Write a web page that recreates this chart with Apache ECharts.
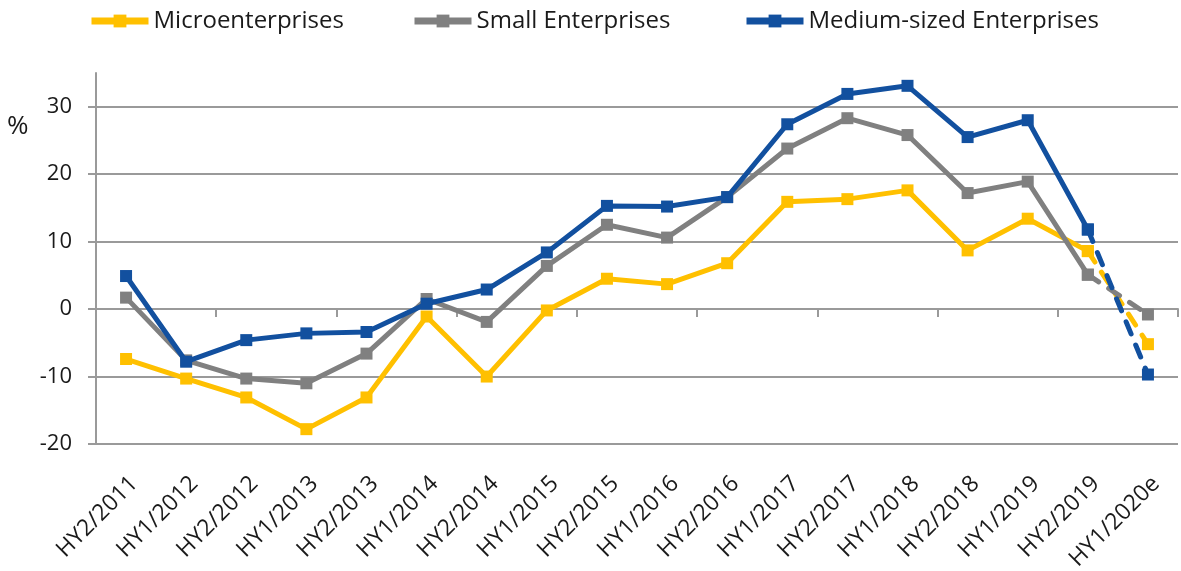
<!DOCTYPE html>
<html>
<head>
<meta charset="utf-8">
<script src="https://cdn.jsdelivr.net/npm/echarts@6/dist/echarts.min.js"></script>
<style>
  html, body { margin: 0; padding: 0; background: #fff; }
  #chart { width: 1181px; height: 571px; }
</style>
</head>
<body>
<div id="chart"></div>
<script>
// Half-year periods; the last one is an estimate
const categories = ['HY2/2011', 'HY1/2012', 'HY2/2012', 'HY1/2013', 'HY2/2013', 'HY1/2014',
  'HY2/2014', 'HY1/2015', 'HY2/2015', 'HY1/2016', 'HY2/2016', 'HY1/2017', 'HY2/2017',
  'HY1/2018', 'HY2/2018', 'HY1/2019', 'HY2/2019', 'HY1/2020e'];

// Balance values in % per enterprise size class
const micro  = [-7.4, -10.3, -13.1, -17.8, -13.1, -1.1, -10.0, -0.2, 4.5, 3.7, 6.8, 15.9, 16.3, 17.6, 8.7, 13.4, 8.6, -5.2];
const small  = [1.7, -7.6, -10.3, -11.0, -6.6, 1.5, -1.9, 6.4, 12.5, 10.6, 16.6, 23.8, 28.3, 25.8, 17.2, 18.9, 5.1, -0.8];
const medium = [4.9, -7.8, -4.6, -3.6, -3.4, 0.8, 2.9, 8.4, 15.3, 15.2, 16.6, 27.4, 31.9, 33.1, 25.5, 28.0, 11.8, -9.7];

const seriesNames = ['Microenterprises', 'Small Enterprises', 'Medium-sized Enterprises'];
const yTicks = [-20, -10, 0, 10, 20, 30];

const colors = ['#FFC000', '#808080', '#12509F'];
const FONT = '"Open Sans", "DejaVu Sans", sans-serif';
const TEXT = '#1a1a1a';
const AXIS = '#9a9a9a';

// Index of the last actual period; the segment after it is the estimate
const lastActual = categories.length - 2;
const actualPart = v => v.map((x, i) => (i <= lastActual ? x : '-'));
const estimatePart = v => v.map((x, i) => (i >= lastActual ? x : '-'));

const valueSets = [micro, small, medium];

const solidSeries = valueSets.map((v, k) => ({
  name: seriesNames[k],
  type: 'line',
  xAxisIndex: 0,
  data: actualPart(v),
  symbol: 'rect',
  symbolSize: 12,
  color: colors[k],
  lineStyle: { width: 5, color: colors[k], join: 'round' },
  itemStyle: { color: colors[k] },
  z: 2 + k
}));

const dashedSeries = valueSets.map((v, k) => ({
  name: seriesNames[k],
  type: 'line',
  xAxisIndex: 0,
  data: estimatePart(v),
  symbol: 'rect',
  symbolSize: 12,
  color: colors[k],
  lineStyle: { width: 5, color: colors[k], type: [13, 12], cap: 'round' },
  itemStyle: { color: colors[k] },
  z: 6 + k
}));

const legendLeft = [88, 411, 743];

const chart = echarts.init(document.getElementById('chart'), null, { renderer: 'canvas' });
chart.setOption({
  animation: false,
  backgroundColor: '#ffffff',
  textStyle: { fontFamily: FONT },
  legend: seriesNames.map((nm, i) => ({
    data: [nm],
    left: legendLeft[i],
    top: 9,
    padding: 0,
    itemGap: 0,
    itemWidth: 57,
    itemHeight: 16,
    lineStyle: { width: 7 },
    textStyle: { fontSize: 24, color: TEXT, fontFamily: FONT }
  })),
  grid: { left: 96, right: 3, top: 73, bottom: 127, containLabel: false, outerBoundsMode: 'none' },
  graphic: [{
    type: 'text',
    left: 7,
    top: 114,
    style: { text: '%', fontSize: 26, fill: TEXT, fontFamily: FONT }
  }],
  xAxis: [
    {
      // category axis line drawn through zero, with tick marks between periods
      type: 'category',
      data: categories,
      position: 'bottom',
      axisLine: { onZero: true, lineStyle: { color: AXIS, width: 2 } },
      axisTick: { show: true, length: 8, lineStyle: { color: AXIS, width: 2 } },
      axisLabel: { show: false },
      splitLine: { show: false }
    },
    {
      // period labels below the plot area
      type: 'category',
      data: categories,
      position: 'bottom',
      axisLine: { show: false, onZero: false },
      axisTick: { show: false },
      splitLine: { show: false },
      axisLabel: {
        rotate: 45,
        interval: 0,
        margin: 28,
        align: 'right',
        verticalAlign: 'top',
        fontSize: 23,
        color: TEXT,
        fontFamily: FONT
      }
    }
  ],
  yAxis: {
    type: 'value',
    min: -20,
    max: 35,
    interval: 10,
    axisLine: { show: true, lineStyle: { color: AXIS, width: 2 } },
    axisTick: { show: true, length: 8, lineStyle: { color: AXIS, width: 2 }, customValues: yTicks },
    axisLabel: { fontSize: 22, color: TEXT, margin: 24, fontFamily: FONT, customValues: yTicks },
    splitLine: { show: true, lineStyle: { color: AXIS, width: 2 } }
  },
  series: solidSeries.concat(dashedSeries)
});
</script>
</body>
</html>
